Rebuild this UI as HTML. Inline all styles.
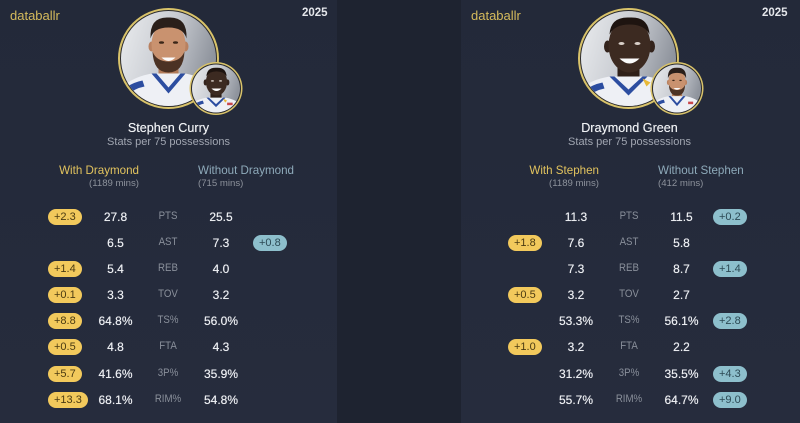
<!DOCTYPE html>
<html><head><meta charset="utf-8"><style>
html,body{margin:0;padding:0;}
body{width:800px;height:423px;background:#1e2330;position:relative;overflow:hidden;font-family:"Liberation Sans",sans-serif;}
.card{position:absolute;top:0;height:423px;background:linear-gradient(#232939,#262c3d);}
.t{position:absolute;white-space:nowrap;line-height:1;}
.brand{left:10px;top:9px;font-size:13px;color:#d6bb5c;}
.yr{left:302px;top:7.6px;font-size:11.5px;font-weight:bold;color:#e4e6ea;}
.name{left:0;width:337px;text-align:center;top:121.8px;font-size:12.6px;color:#eef0f3;text-shadow:0 0 0.4px #eef0f3;}
.sub{left:0;width:337px;text-align:center;top:137.4px;font-size:11px;color:#a1a6b1;}
.hw{left:0;width:139px;text-align:right;top:164.7px;font-size:11.6px;color:#e2c35e;}
.hwm{left:0;width:139px;text-align:right;top:178.9px;font-size:9.6px;color:#8d929c;}
.ho{left:198px;top:164.7px;font-size:11.6px;color:#8eaaba;}
.hom{left:198px;top:178.9px;font-size:9.6px;color:#8d929c;}
.v{position:absolute;width:70px;text-align:center;font-size:12px;line-height:12px;color:#eceef2;white-space:nowrap;text-shadow:0 0 0.5px #eceef2;}
.l{position:absolute;width:60px;text-align:center;font-size:11px;line-height:11px;color:#8a909b;white-space:nowrap;transform:scaleX(0.88);margin-top:-0.5px;}
.b{position:absolute;height:16px;line-height:16px;padding:0 6px;border-radius:8px;font-size:11px;white-space:nowrap;}
.g{background:#f2c95c;color:#4a3a12;left:48px;}
.bl{background:#8dbfcc;color:#2c4954;left:253px;}
svg{position:absolute;left:0;top:0;}
</style></head><body>

<svg width="0" height="0" style="position:absolute">
<defs>
<clipPath id="c"><circle cx="0" cy="0" r="47.5"/></clipPath>
<linearGradient id="bg" x1="0" y1="0" x2="1" y2="0.3">
<stop offset="0" stop-color="#eceef0"/><stop offset="0.55" stop-color="#c9ccd2"/><stop offset="1" stop-color="#8f949d"/>
</linearGradient>
<g id="curry">
<g clip-path="url(#c)">
<rect x="-50" y="-50" width="100" height="100" fill="url(#bg)"/>
<rect x="-10" y="0" width="20" height="20" fill="#b27b59"/>
<path d="M-50,50 L-50,34 Q-42,20 -17,15 L17,15 Q42,20 50,34 L50,50Z" fill="#eef0f5"/>
<path d="M-17,15 L0,35 L17,15 L12,15 L0,29 L-12,15Z" fill="#2c4da0"/>
<path d="M-44,30 Q-36,24 -26,22 L-24,28 Q-34,30 -40,36Z" fill="#2c4da0"/>
<rect x="22" y="26" width="10" height="5" fill="#c9474a"/>
<ellipse cx="-17" cy="-12" rx="3" ry="5" fill="#b98160"/>
<ellipse cx="17" cy="-12" rx="3" ry="5" fill="#b98160"/>
<ellipse cx="0" cy="-14" rx="17" ry="23" fill="#c9926f"/>
<path d="M-18,-20 Q-19,-42 0,-41 Q19,-42 18,-20 Q15,-31 0,-31 Q-15,-31 -18,-20Z" fill="#2a1f1a"/>
<path d="M-16,-7 Q-15,14 0,14 Q15,14 16,-7 Q12,3 0,3 Q-12,3 -16,-7Z" fill="#4b3224"/>
<ellipse cx="-7" cy="-16" rx="2.6" ry="1.3" fill="#3a2618"/>
<ellipse cx="7" cy="-16" rx="2.6" ry="1.3" fill="#3a2618"/>
<path d="M-7,-1 Q0,6 7,-1Z" fill="#fbfbfb"/>
</g>
</g>
<g id="dray">
<g clip-path="url(#c)">
<rect x="-50" y="-50" width="100" height="100" fill="url(#bg)"/>
<rect x="-11" y="4" width="22" height="20" fill="#2f2019"/>
<path d="M-50,50 L-50,34 Q-42,22 -19,18 L19,18 Q42,22 50,34 L50,50Z" fill="#eef0f5"/>
<path d="M-19,18 L0,37 L19,18 L14,18 L0,31 L-14,18Z" fill="#2c4da0"/>
<path d="M-44,32 Q-36,26 -26,24 L-24,30 Q-34,32 -40,38Z" fill="#2c4da0"/>
<path d="M14,20 L22,24 L18,28Z" fill="#e8b938"/>
<rect x="22" y="28" width="11" height="5" fill="#c9474a"/>
<ellipse cx="-21" cy="-12" rx="3.5" ry="6" fill="#33231c"/>
<ellipse cx="23" cy="-12" rx="3.5" ry="6" fill="#33231c"/>
<ellipse cx="1" cy="-13" rx="21" ry="27" fill="#3c2a21"/>
<path d="M-19,-24 Q-18,-42 1,-41 Q20,-42 21,-24 Q16,-34 1,-34 Q-14,-34 -19,-24Z" fill="#1e1410"/>
<ellipse cx="-7" cy="-15" rx="3" ry="1.5" fill="#d8cfc8"/>
<ellipse cx="9" cy="-15" rx="3" ry="1.5" fill="#d8cfc8"/>
<path d="M-9,0 Q1,10 11,0Z" fill="#fbfbfb"/>
</g>
</g>
</defs>
</svg>

<!-- LEFT CARD -->
<div class="card" style="left:0;width:337px;">
<svg width="337" height="130">
<circle cx="168.5" cy="58.5" r="50.5" fill="#d9c36a"/>
<circle cx="168.5" cy="58.5" r="48.5" fill="#2a2a2e"/>
<use href="#curry" transform="translate(168.5,58.5)"/>
<circle cx="216" cy="88.5" r="26.5" fill="#d9c36a"/>
<circle cx="216" cy="88.5" r="25" fill="#2a2a2e"/>
<use href="#dray" transform="translate(216,88.5) scale(0.505)"/>
</svg>
<div class="t brand">databallr</div>
<div class="t yr">2025</div>
<div class="t name">Stephen Curry</div>
<div class="t sub">Stats per 75 possessions</div>
<div class="t hw">With Draymond</div>
<div class="t hwm">(1189 mins)</div>
<div class="t ho">Without Draymond</div>
<div class="t hom">(715 mins)</div>

<div class="b g" style="top:208.7px">+2.3</div>
<div class="v" style="left:80.5px;top:210.7px">27.8</div>
<div class="l" style="left:138px;top:211.2px">PTS</div>
<div class="v" style="left:186px;top:210.7px">25.5</div>

<div class="v" style="left:80.5px;top:236.7px">6.5</div>
<div class="l" style="left:138px;top:237.2px">AST</div>
<div class="v" style="left:186px;top:236.7px">7.3</div>
<div class="b bl" style="top:234.7px">+0.8</div>

<div class="b g" style="top:261px">+1.4</div>
<div class="v" style="left:80.5px;top:263px">5.4</div>
<div class="l" style="left:138px;top:263.5px">REB</div>
<div class="v" style="left:186px;top:263px">4.0</div>

<div class="b g" style="top:287px">+0.1</div>
<div class="v" style="left:80.5px;top:289px">3.3</div>
<div class="l" style="left:138px;top:289.5px">TOV</div>
<div class="v" style="left:186px;top:289px">3.2</div>

<div class="b g" style="top:313px">+8.8</div>
<div class="v" style="left:80.5px;top:315px">64.8%</div>
<div class="l" style="left:138px;top:315.5px">TS%</div>
<div class="v" style="left:186px;top:315px">56.0%</div>

<div class="b g" style="top:339.3px">+0.5</div>
<div class="v" style="left:80.5px;top:341.3px">4.8</div>
<div class="l" style="left:138px;top:341.8px">FTA</div>
<div class="v" style="left:186px;top:341.3px">4.3</div>

<div class="b g" style="top:365.7px">+5.7</div>
<div class="v" style="left:80.5px;top:367.7px">41.6%</div>
<div class="l" style="left:138px;top:368.2px">3P%</div>
<div class="v" style="left:186px;top:367.7px">35.9%</div>

<div class="b g" style="top:392px">+13.3</div>
<div class="v" style="left:80.5px;top:394px">68.1%</div>
<div class="l" style="left:138px;top:394.5px">RIM%</div>
<div class="v" style="left:186px;top:394px">54.8%</div>
</div>

<!-- RIGHT CARD -->
<div class="card" style="left:461px;width:339px;">
<svg width="337" height="130">
<circle cx="167.5" cy="58.5" r="50.5" fill="#d9c36a"/>
<circle cx="167.5" cy="58.5" r="48.5" fill="#2a2a2e"/>
<use href="#dray" transform="translate(167.5,58.5)"/>
<circle cx="216" cy="88.5" r="26.5" fill="#d9c36a"/>
<circle cx="216" cy="88.5" r="25" fill="#2a2a2e"/>
<use href="#curry" transform="translate(216,88.5) scale(0.505)"/>
</svg>
<div class="t brand">databallr</div>
<div class="t yr" style="left:301px">2025</div>
<div class="t name">Draymond Green</div>
<div class="t sub">Stats per 75 possessions</div>
<div class="t hw" style="width:138px">With Stephen</div>
<div class="t hwm" style="width:138px">(1189 mins)</div>
<div class="t ho" style="left:197px">Without Stephen</div>
<div class="t hom" style="left:197px">(412 mins)</div>

<div class="v" style="left:80px;top:210.7px">11.3</div>
<div class="l" style="left:137.5px;top:211.2px">PTS</div>
<div class="v" style="left:185.5px;top:210.7px">11.5</div>
<div class="b bl" style="left:252px;top:208.7px">+0.2</div>

<div class="b g" style="left:47px;top:234.7px">+1.8</div>
<div class="v" style="left:80px;top:236.7px">7.6</div>
<div class="l" style="left:137.5px;top:237.2px">AST</div>
<div class="v" style="left:185.5px;top:236.7px">5.8</div>

<div class="v" style="left:80px;top:263px">7.3</div>
<div class="l" style="left:137.5px;top:263.5px">REB</div>
<div class="v" style="left:185.5px;top:263px">8.7</div>
<div class="b bl" style="left:252px;top:261px">+1.4</div>

<div class="b g" style="left:47px;top:287px">+0.5</div>
<div class="v" style="left:80px;top:289px">3.2</div>
<div class="l" style="left:137.5px;top:289.5px">TOV</div>
<div class="v" style="left:185.5px;top:289px">2.7</div>

<div class="v" style="left:80px;top:315px">53.3%</div>
<div class="l" style="left:137.5px;top:315.5px">TS%</div>
<div class="v" style="left:185.5px;top:315px">56.1%</div>
<div class="b bl" style="left:252px;top:313px">+2.8</div>

<div class="b g" style="left:47px;top:339.3px">+1.0</div>
<div class="v" style="left:80px;top:341.3px">3.2</div>
<div class="l" style="left:137.5px;top:341.8px">FTA</div>
<div class="v" style="left:185.5px;top:341.3px">2.2</div>

<div class="v" style="left:80px;top:367.7px">31.2%</div>
<div class="l" style="left:137.5px;top:368.2px">3P%</div>
<div class="v" style="left:185.5px;top:367.7px">35.5%</div>
<div class="b bl" style="left:252px;top:365.7px">+4.3</div>

<div class="v" style="left:80px;top:394px">55.7%</div>
<div class="l" style="left:137.5px;top:394.5px">RIM%</div>
<div class="v" style="left:185.5px;top:394px">64.7%</div>
<div class="b bl" style="left:252px;top:392px">+9.0</div>
</div>

</body></html>
